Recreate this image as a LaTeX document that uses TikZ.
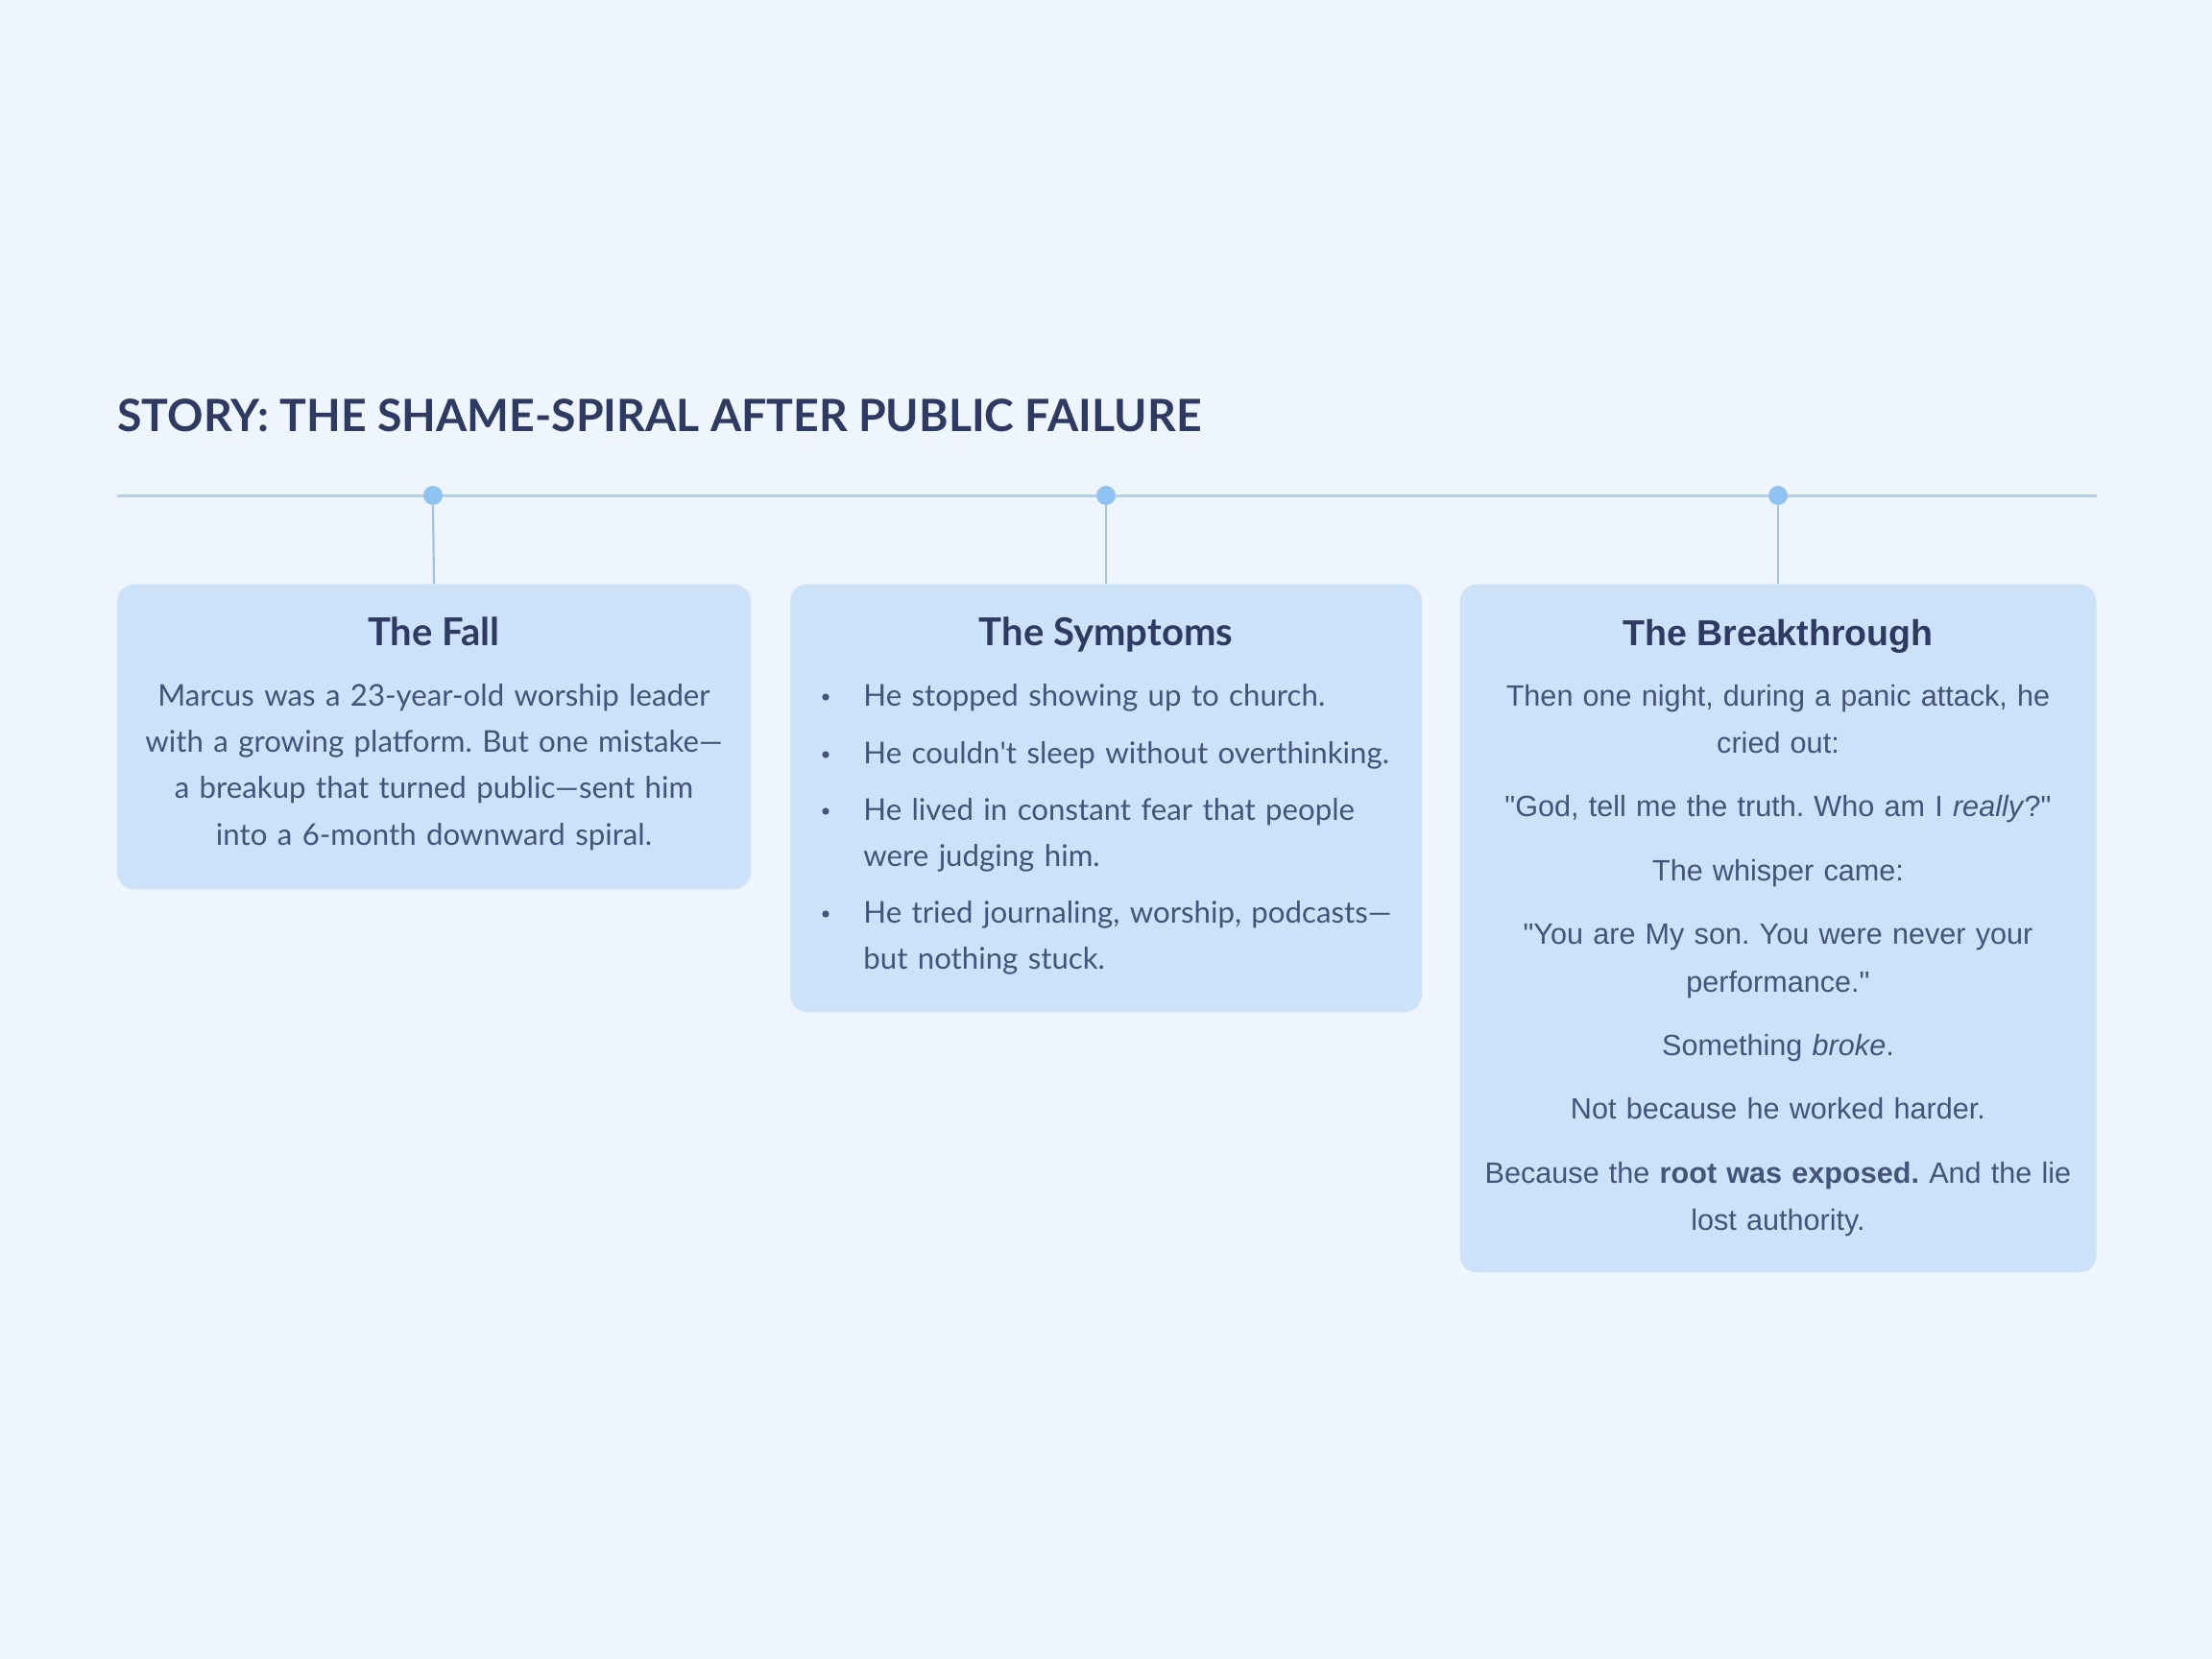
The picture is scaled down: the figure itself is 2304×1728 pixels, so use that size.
\documentclass[tikz,border=0pt]{standalone}
\usepackage{fontspec}
\setmainfont{Lato}
\newfontfamily\arialfont{Liberation Sans}
\usetikzlibrary{positioning}
\frenchspacing

\definecolor{pagebg}{HTML}{EEF5FD}
\definecolor{cardfill}{HTML}{CCE2F9}
\definecolor{rulecol}{HTML}{B4D0EC}
\definecolor{stemcol}{HTML}{A7C1DA}
\definecolor{dotcol}{HTML}{8FC3F2}
\definecolor{headink}{HTML}{2E3A62}
\definecolor{bodyink}{HTML}{43537A}

\tikzset{
  card/.style={fill=cardfill, rounded corners=9pt, anchor=north, inner sep=0pt},
  cardtitle/.style={anchor=base, text=headink, font=\bfseries\fontsize{20pt}{24pt}\selectfont},
  cardbody/.style={anchor=base, text=bodyink, align=center, inner sep=0pt,
    font=\fontsize{15.6pt}{24.2pt}\selectfont},
  dot/.style={circle, fill=dotcol, inner sep=0pt, minimum size=10pt},
  bullet/.style={circle, fill=bodyink, inner sep=0pt, minimum size=3.6pt},
}

\begin{document}
\begin{tikzpicture}[x=0.5pt, y=-0.5pt]
  \useasboundingbox[fill=pagebg] (0,0) rectangle (2304,1728);

  % heading
  \node[anchor=base west, inner sep=0pt, text=headink,
    font=\bfseries\fontsize{23.2pt}{27pt}\selectfont] (heading) at (122,450)
    {STORY: THE SHAME-SPIRAL AFTER PUBLIC FAILURE};

  % timeline
  \coordinate (tl-start) at (122,516);
  \coordinate (tl-end)   at (2184,516);
  \draw[rulecol, line width=1.5pt] (tl-start) -- (tl-end);

  % cards
  \node[card, minimum width=330pt, minimum height=159pt]   (fall)    at (452,608)  {};
  \node[card, minimum width=329pt, minimum height=223pt]   (symp)    at (1152,608) {};
  \node[card, minimum width=331.5pt, minimum height=358.5pt] (breakth) at (1852,608) {};

  \foreach \n/\x/\c in {1/451/fall, 2/1152/symp, 3/1852/breakth} {
    \node[dot] (dot\n) at (\x,516) {};
    \draw[stemcol, line width=1.1pt] (dot\n.south) -- (\c.north);
  }

  % The Fall
  \node[cardtitle] (fall-title) at (452,672) {The Fall};
  \node[cardbody, text width=310pt] (fall-text) at (452,735)
    {Marcus was a 23-year-old worship leader\\with a growing platform. But one mistake---\\a breakup that turned public---sent him\\into a 6-month downward spiral.};

  % The Symptoms
  \node[cardtitle] (symp-title) at (1152,672) {The Symptoms};
  \foreach \i/\y/\txt in {1/735/{He stopped showing up to church.},
                          2/795/{He couldn\textquotesingle t sleep without overthinking.},
                          3/854/{He lived in constant fear that people\\were judging him.},
                          4/961/{He tried journaling, worship, podcasts---\\but nothing stuck.}} {
    \node[bullet] (bul\i) at (860,\y-9) {};
    \node[cardbody, anchor=base west, align=left, text width=280pt] (item\i) at (899,\y) {\txt};
  }

  % The Breakthrough
  \node[cardtitle, font=\arialfont\bfseries\fontsize{18.8pt}{23pt}\selectfont] (breakth-title) at (1852,672) {The Breakthrough};
  \node[cardbody, text width=320pt, font=\arialfont\fontsize{15.3pt}{24.7pt}\selectfont] (breakth-text) at (1852,735)
    {Then one night, during a panic attack, he\\cried out:\\[8.5pt]
     "God, tell me the truth. Who am I \textit{really}?"\\[8.5pt]
     The whisper came:\\[8.5pt]
     "You are My son. You were never your\\performance."\\[8.5pt]
     Something \textit{broke}.\\[8.5pt]
     Not because he worked harder.\\[8.5pt]
     Because the \textbf{root was exposed.} And the lie\\lost authority.};
\end{tikzpicture}
\end{document}
